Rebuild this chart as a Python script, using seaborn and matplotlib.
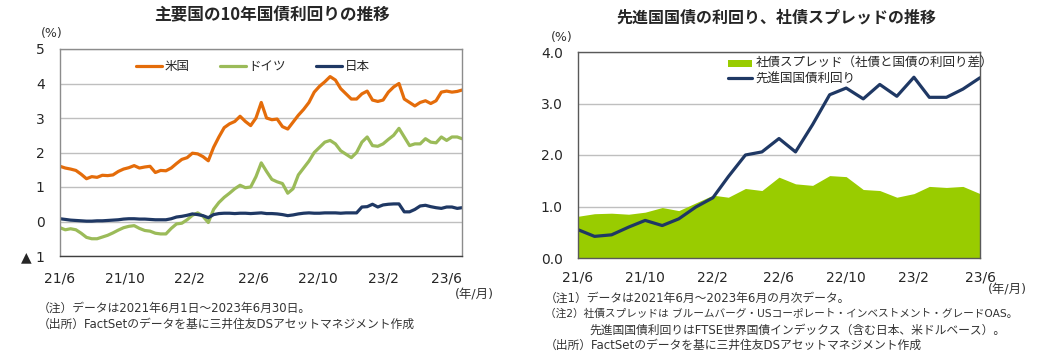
import pandas as pd
import matplotlib
matplotlib.use("Agg")
import matplotlib.pyplot as plt
import seaborn as sns

sns.set_style("white")
plt.rcParams['font.family'] = ['DejaVu Sans', 'Noto Sans CJK JP']

# ---- left: 10y government bond yields (read off roughly every 10 days) ----
yield_dates = list(pd.date_range("2021-06-01", periods=76, freq="10D")) + [pd.Timestamp("2023-06-30")]

us_10y = [1.60, 1.55, 1.52, 1.48, 1.37, 1.24, 1.30, 1.28, 1.34, 1.33,
          1.35, 1.45, 1.52, 1.56, 1.62, 1.55, 1.58, 1.60, 1.42, 1.48,
          1.47, 1.55, 1.68, 1.80, 1.85, 1.98, 1.96, 1.88, 1.76, 2.15,
          2.45, 2.72, 2.83, 2.90, 3.05, 2.90, 2.78, 3.00, 3.45, 3.00,
          2.95, 2.97, 2.75, 2.68, 2.88, 3.08, 3.25, 3.45, 3.75, 3.92,
          4.05, 4.20, 4.10, 3.85, 3.70, 3.55, 3.55, 3.70, 3.78, 3.52,
          3.48, 3.52, 3.75, 3.90, 4.00, 3.55, 3.45, 3.35, 3.45, 3.50,
          3.42, 3.50, 3.75, 3.78, 3.75, 3.77, 3.81]
de_10y = [-0.18, -0.24, -0.21, -0.24, -0.34, -0.46, -0.50, -0.50, -0.45, -0.40,
          -0.33, -0.25, -0.18, -0.14, -0.12, -0.20, -0.26, -0.28, -0.34, -0.36,
          -0.36, -0.20, -0.07, -0.05, 0.05, 0.18, 0.25, 0.15, -0.03, 0.35,
          0.55, 0.70, 0.82, 0.95, 1.05, 0.98, 1.00, 1.30, 1.70, 1.45,
          1.22, 1.15, 1.10, 0.82, 0.95, 1.35, 1.55, 1.75, 2.00, 2.15,
          2.30, 2.35, 2.25, 2.05, 1.95, 1.85, 2.00, 2.30, 2.45, 2.20,
          2.18, 2.25, 2.38, 2.50, 2.70, 2.45, 2.20, 2.25, 2.25, 2.40,
          2.30, 2.28, 2.45, 2.35, 2.45, 2.45, 2.40]
jp_10y = [0.08, 0.06, 0.04, 0.03, 0.02, 0.01, 0.01, 0.02, 0.02, 0.03,
          0.04, 0.05, 0.07, 0.08, 0.08, 0.07, 0.07, 0.06, 0.05, 0.05,
          0.05, 0.08, 0.13, 0.15, 0.18, 0.22, 0.20, 0.17, 0.11, 0.20,
          0.23, 0.24, 0.24, 0.23, 0.24, 0.24, 0.23, 0.24, 0.25, 0.23,
          0.23, 0.22, 0.20, 0.17, 0.19, 0.22, 0.24, 0.25, 0.24, 0.24,
          0.25, 0.25, 0.25, 0.24, 0.25, 0.25, 0.25, 0.42, 0.43, 0.50,
          0.42, 0.48, 0.50, 0.51, 0.51, 0.28, 0.28, 0.35, 0.45, 0.47,
          0.43, 0.40, 0.38, 0.42, 0.42, 0.38, 0.40]

left_ticks = ["2021-06-01", "2021-10-01", "2022-02-01", "2022-06-01",
              "2022-10-01", "2023-02-01", "2023-06-01"]
tick_labels = ["21/6", "21/10", "22/2", "22/6", "22/10", "23/2", "23/6"]
left_yticks = [-1, 0, 1, 2, 3, 4, 5]
left_ylabels = ["▲ 1", "0", "1", "2", "3", "4", "5"]

# ---- right: monthly spread and developed-market govt yield ----
months = pd.date_range("2021-06-01", periods=25, freq="MS")
corp_spread = [0.81, 0.86, 0.87, 0.85, 0.89, 0.98, 0.92, 1.07, 1.22, 1.18,
               1.35, 1.31, 1.57, 1.44, 1.41, 1.60, 1.58, 1.33, 1.31, 1.18,
               1.25, 1.39, 1.37, 1.39, 1.25]
dm_govt = [0.55, 0.42, 0.45, 0.60, 0.73, 0.63, 0.76, 0.99, 1.17, 1.58,
           2.00, 2.06, 2.32, 2.06, 2.59, 3.17, 3.30, 3.09, 3.37, 3.14,
           3.51, 3.12, 3.12, 3.28, 3.50]
right_yticks = [0, 1, 2, 3, 4]

W, H = 1049, 357
fig = plt.figure(figsize=(W / 100, H / 100), dpi=100)

def fx(px):
    return px / W

def fy(py):
    return 1 - py / H

ax1 = fig.add_axes([fx(60), fy(256), fx(402), 207 / H])
ax2 = fig.add_axes([fx(578), fy(258), fx(402), 206 / H])

# left chart
sns.lineplot(x=yield_dates, y=us_10y, ax=ax1, color="#E46C0A", lw=2.3, label="米国")
sns.lineplot(x=yield_dates, y=de_10y, ax=ax1, color="#9BBB59", lw=2.3, label="ドイツ")
sns.lineplot(x=yield_dates, y=jp_10y, ax=ax1, color="#1F3864", lw=2.3, label="日本")
ax1.set_xlim(pd.Timestamp("2021-06-01"), pd.Timestamp("2023-06-30"))
ax1.set_ylim(-1, 5)
ax1.set_xticks(pd.to_datetime(left_ticks))
ax1.set_xticklabels(tick_labels)
ax1.set_yticks(left_yticks)
ax1.set_yticklabels(left_ylabels)
ax1.yaxis.grid(True, color="#BFBFBF", lw=1)
ax1.set_axisbelow(True)
ax1.tick_params(axis="x", direction="in", length=5, width=1, color="#404040", pad=11, labelsize=10)
ax1.tick_params(axis="y", length=0, pad=11, labelsize=10)
for s in ax1.spines.values():
    s.set_color("#8C8C8C")
    s.set_linewidth(1)
ax1.spines["bottom"].set_color("#404040")
ax1.set_xlabel("")
ax1.set_ylabel("")
ax1.legend(loc="upper center", bbox_to_anchor=(0.48, 1.0), ncol=3, frameon=False,
           fontsize=9, handlelength=2.1, columnspacing=2.4, handletextpad=0.2)

# right chart
ax2.fill_between(months, 0, corp_spread, color="#99CC00", lw=0,
                 label="社債スプレッド（社債と国債の利回り差）")
sns.lineplot(x=months, y=dm_govt, ax=ax2, color="#1F3864", lw=2.3, label="先進国国債利回り")
ax2.set_xlim(months[0], months[-1])
ax2.set_ylim(0, 4)
ax2.set_xticks(months[::4])
ax2.set_xticklabels(tick_labels)
ax2.set_yticks(right_yticks)
ax2.set_yticklabels([f"{v:.1f}" for v in right_yticks])
ax2.yaxis.grid(True, color="#BFBFBF", lw=1)
ax2.set_axisbelow(True)
ax2.tick_params(axis="x", direction="in", length=5, width=1, color="#404040", pad=9, labelsize=10)
ax2.tick_params(axis="y", length=0, pad=11, labelsize=10)
for s in ax2.spines.values():
    s.set_color("#595959")
    s.set_linewidth(1)
ax2.set_xlabel("")
ax2.set_ylabel("")
leg = ax2.legend(loc="upper left", bbox_to_anchor=(0.345, 1.03), frameon=False,
                 fontsize=9, handlelength=1.9, handletextpad=0.3, labelspacing=0.2)
leg.legend_handles[0].set_height(5)

# titles and annotations
fig.text(fx(272), fy(15), "主要国の10年国債利回りの推移", ha="center", va="center",
         fontsize=12, fontweight="bold", family=["Noto Sans CJK JP", "DejaVu Sans"])
fig.text(fx(776), fy(18), "先進国国債の利回り、社債スプレッドの推移", ha="center", va="center",
         fontsize=11.5, fontweight="bold", family=["Noto Sans CJK JP", "DejaVu Sans"])
fig.text(fx(52), fy(33), "(%)", ha="center", va="center", fontsize=9, color="#333333")
fig.text(fx(562), fy(37), "(%)", ha="center", va="center", fontsize=9, color="#333333")
fig.text(fx(474), fy(295), "(年/月)", ha="center", va="center", fontsize=9, color="#333333")
fig.text(fx(1007), fy(290), "(年/月)", ha="center", va="center", fontsize=9, color="#333333")

note_kw = dict(ha="left", va="center", fontsize=8.5, color="#333333")
fig.text(fx(38), fy(308), "（注）データは2021年6月1日～2023年6月30日。", **note_kw)
fig.text(fx(38), fy(324), "（出所）FactSetのデータを基に三井住友DSアセットマネジメント作成", **note_kw)
fig.text(fx(545), fy(298), "（注1）データは2021年6月～2023年6月の月次データ。", **note_kw)
fig.text(fx(545), fy(314), "（注2）社債スプレッドは ブルームバーグ・USコーポレート・インベストメント・グレードOAS。",
         **{**note_kw, "fontsize": 7.7})
fig.text(fx(589), fy(330), "先進国国債利回りはFTSE世界国債インデックス（含む日本、米ドルベース）。", **note_kw)
fig.text(fx(545), fy(345), "（出所）FactSetのデータを基に三井住友DSアセットマネジメント作成", **note_kw)

fig.savefig("out.png", dpi=100)
